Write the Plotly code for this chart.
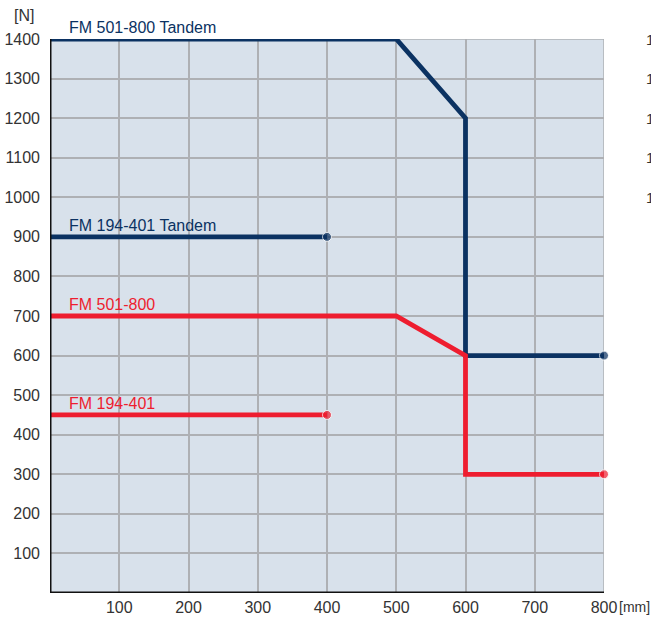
import plotly.graph_objects as go

# Data
tandem_501_800_x = [0, 500, 600, 600, 800]
tandem_501_800_y = [1400, 1400, 1200, 600, 600]
tandem_194_401_x = [0, 400]
tandem_194_401_y = [900, 900]
fm_501_800_x = [0, 500, 600, 600, 800]
fm_501_800_y = [700, 700, 600, 300, 300]
fm_194_401_x = [0, 400]
fm_194_401_y = [450, 450]

series = [
    ("FM 501-800 Tandem", tandem_501_800_x, tandem_501_800_y, "#0b3262"),
    ("FM 194-401 Tandem", tandem_194_401_x, tandem_194_401_y, "#0b3262"),
    ("FM 501-800", fm_501_800_x, fm_501_800_y, "#ee1d2f"),
    ("FM 194-401", fm_194_401_x, fm_194_401_y, "#ee1d2f"),
]

x_ticks = [100, 200, 300, 400, 500, 600, 700, 800]
y_ticks = list(range(100, 1401, 100))
right_edge_ticks = [1400, 1300, 1200, 1100, 1000]

FONT = "Liberation Sans, Arial, Helvetica, sans-serif"
TXT = "#333333"

fig = go.Figure()
for name, xs, ys, col in series:
    sizes = [0] * (len(xs) - 1) + [9]
    fig.add_trace(go.Scatter(
        x=xs, y=ys, mode="lines+markers", name=name,
        line=dict(color=col, width=4.8),
        marker=dict(size=sizes, color=col),
        cliponaxis=False, showlegend=False, hoverinfo="skip",
    ))
    fig.add_annotation(
        x=25, y=ys[0], text=name, showarrow=False,
        xanchor="left", yanchor="bottom", yshift=1,
        font=dict(family=FONT, size=16, color=col),
    )

# Axis lines
fig.add_shape(type="line", xref="x", yref="y", x0=0, x1=807, y0=0, y1=0,
              line=dict(color="#111111", width=3))
fig.add_shape(type="line", xref="x", yref="y", x0=0, x1=0, y0=0, y1=1400,
              line=dict(color="#111111", width=3))
# right and top border of plot
fig.add_shape(type="line", xref="x", yref="y", x0=800, x1=800, y0=0, y1=1400,
              line=dict(color="#aeb0b4", width=1.5), layer="below")
fig.add_shape(type="line", xref="x", yref="y", x0=0, x1=800, y0=1400, y1=1400,
              line=dict(color="#aeb0b4", width=1.5), layer="below")

fig.add_annotation(xref="paper", yref="paper", x=0, y=1.0, xshift=-38, yshift=24,
                   text="[N]", showarrow=False, xanchor="left", yanchor="middle",
                   font=dict(family=FONT, size=16, color=TXT))
fig.add_annotation(xref="paper", yref="paper", x=1.0, y=0, yshift=-14, xshift=13,
                   text="[mm]", showarrow=False, xanchor="left", yanchor="middle",
                   font=dict(family=FONT, size=14, color=TXT))

for v in right_edge_ticks:
    fig.add_annotation(xref="paper", yref="y", x=1.0, xshift=40, y=v,
                       text="1", showarrow=False, xanchor="left", yanchor="middle",
                       font=dict(family=FONT, size=15, color=TXT))

fig.update_xaxes(
    range=[0, 800], tickvals=x_ticks, ticktext=[str(v) for v in x_ticks],
    showgrid=True, gridcolor="#aeb0b4", gridwidth=1.5,
    showline=False, zeroline=False, ticks="", ticklabelstandoff=3,
    automargin=False,
    tickfont=dict(family=FONT, size=16, color=TXT),
)
fig.update_yaxes(
    range=[0, 1400], tickvals=y_ticks, ticktext=[str(v) for v in y_ticks],
    showgrid=True, gridcolor="#aeb0b4", gridwidth=1.5,
    showline=False, zeroline=False, ticks="", ticklabelstandoff=9,
    automargin=False,
    tickfont=dict(family=FONT, size=16, color=TXT),
)

fig.update_layout(
    width=651, height=621,
    margin=dict(l=50, r=47, t=39, b=28),
    plot_bgcolor="#d8e1eb", paper_bgcolor="white",
)

fig.write_html("out.html", config={"displayModeBar": False},
               post_script="document.body.style.margin='0';")
